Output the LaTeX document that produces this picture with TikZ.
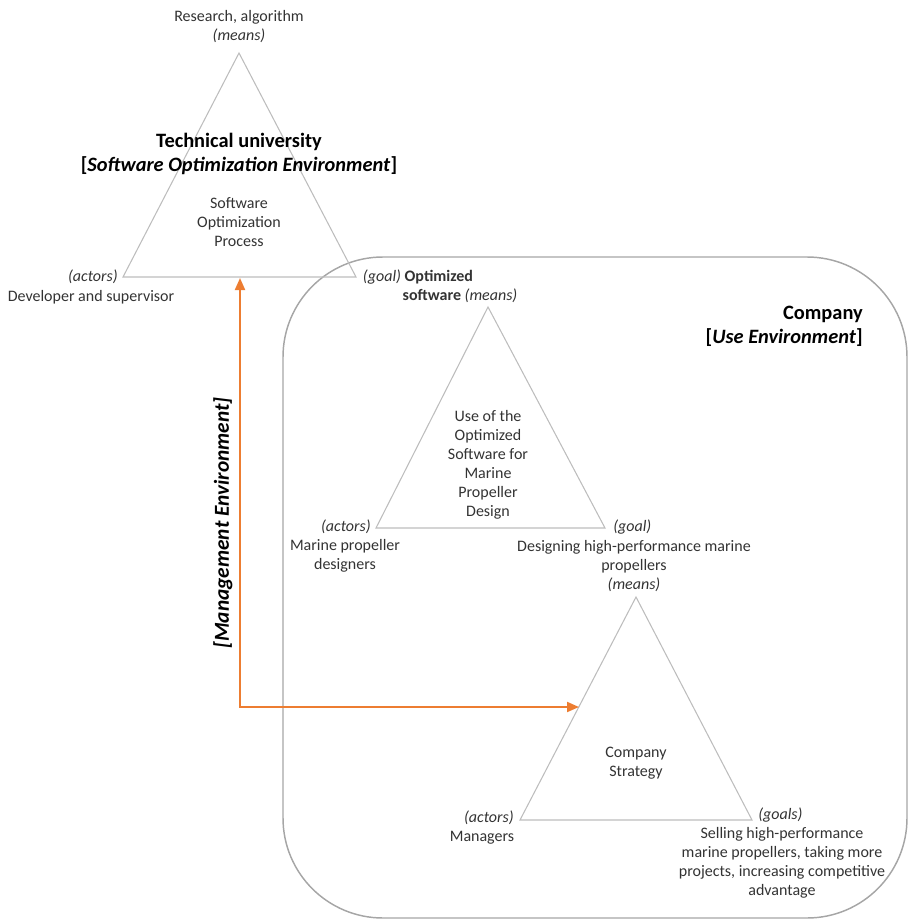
\documentclass[tikz,border=0pt]{standalone}
\usepackage{fontspec}
\setmainfont{Carlito}
\usetikzlibrary{arrows.meta}
\definecolor{txt}{HTML}{333333}
\definecolor{triline}{HTML}{BDBDBD}
\definecolor{boxline}{HTML}{A6A6A6}
\definecolor{mgmt}{HTML}{ED7D31}
\tikzset{
  lbl/.style={text=txt, font=\fontsize{12pt}{14.25pt}\selectfont, inner sep=0pt, align=center},
  title/.style={text=black, font=\fontsize{15.3pt}{18pt}\selectfont\bfseries, inner sep=0pt, align=center},
  tri/.style={draw=triline, line width=0.8pt, line join=miter},
  envbox/.style={draw=boxline, line width=1.1pt, rounded corners=75pt},
  mgmtarrow/.style={draw=mgmt, line width=1.5pt, {Triangle[length=9pt,width=7.5pt]}-{Triangle[length=9pt,width=7.5pt]}}
}
\begin{document}
\begin{tikzpicture}[x=0.75pt, y=-0.75pt]
  \useasboundingbox (0,0) rectangle (909,920);

  % use environment frame
  \draw[envbox] (283,257) rectangle (907,918);

  % triangle vertices
  \coordinate (t1a) at (239,53);
  \coordinate (t1l) at (123,277);
  \coordinate (t1r) at (356,277);
  \coordinate (t2a) at (488,307);
  \coordinate (t2l) at (376,528);
  \coordinate (t2r) at (605,528);
  \coordinate (t3a) at (636,597);
  \coordinate (t3l) at (520,820);
  \coordinate (t3r) at (752,820);

  \draw[tri] (t1a) -- (t1l) -- (t1r) -- cycle;
  \draw[tri] (t2a) -- (t2l) -- (t2r) -- cycle;
  \draw[tri] (t3a) -- (t3l) -- (t3r) -- cycle;

  % management environment connector
  \coordinate (mtop) at (240,278);
  \coordinate (mend) at (579,707);
  \draw[mgmtarrow] (mtop) |- (mend);
  \node[title, font=\fontsize{16pt}{18pt}\selectfont\bfseries\itshape, rotate=90] (mlabel) at (223,523) {[Management Environment]};

  % software optimization environment
  \node[lbl] (t1means) at (239,27) {Research, algorithm\\\textit{(means)}};
  \node[title] (t1title) at (239,154) {Technical university\\{}[\textit{Software Optimization Environment}]};
  \node[lbl] (t1proc) at (239,222) {Software\\Optimization\\Process};
  \node[lbl, anchor=east] (t1act) at (118,277) {\textit{(actors)}};
  \node[lbl] (t1actn) at (91,297) {Developer and supervisor};
  \node[lbl] (t1goal) at (418,277) {\textit{(goal)} \textbf{Optimized}};
  \node[lbl] (t2means) at (460,296) {\textbf{software} \textit{(means)}};

  % use environment
  \node[title, align=right, anchor=east] (ctitle) at (863,326) {Company\\{}[\textit{Use Environment}]};
  \node[lbl] (t2proc) at (488,465) {Use of the\\Optimized\\Software for\\Marine\\Propeller\\Design};
  \node[lbl, anchor=east] (t2act) at (371,527) {\textit{(actors)}};
  \node[lbl] (t2actn) at (345,556) {Marine propeller\\designers};
  \node[lbl, anchor=west] (t2goal) at (613,527) {\textit{(goal)}};
  \node[lbl] (t2goaln) at (634,566) {Designing high-performance marine\\propellers\\\textit{(means)}};

  \node[lbl] (t3proc) at (636,763) {Company\\Strategy};
  \node[lbl, anchor=east] (t3act) at (514,818) {\textit{(actors)}};
  \node[lbl] (t3actn) at (482,838) {Managers};
  \node[lbl, anchor=west] (t3goal) at (758,815) {\textit{(goals)}};
  \node[lbl] (t3goaln) at (782,863) {Selling high-performance\\marine propellers, taking more\\projects, increasing competitive\\advantage};
\end{tikzpicture}
\end{document}
